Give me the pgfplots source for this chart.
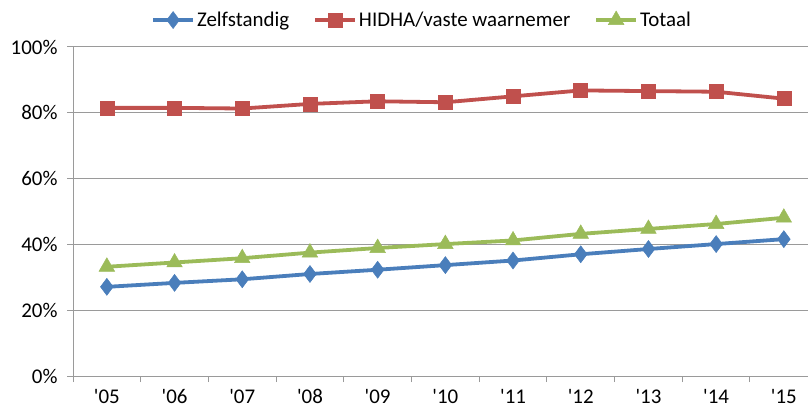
\documentclass[border=0pt]{standalone}
\usepackage{pgfplots}
\pgfplotsset{compat=1.18}
\usepackage{fontspec}
\setmainfont{Carlito}
\definecolor{cblue}{HTML}{4A7EBB}
\definecolor{cred}{HTML}{C0504D}
\definecolor{cgreen}{HTML}{9BBB59}
\definecolor{cgrid}{HTML}{9A9A9A}
\begin{document}
\begin{tikzpicture}
\begin{axis}[
  at={(0,0)}, anchor=south west,
  scale only axis, width=735bp, height=329bp,
  xmin=-0.5, xmax=10.357, ymin=0, ymax=100,
  axis x line=bottom, axis y line=left,
  axis line style={cgrid, line width=1pt, -},
  xtick={0,...,10},
  xticklabels={\textquotesingle05,\textquotesingle06,\textquotesingle07,\textquotesingle08,\textquotesingle09,\textquotesingle10,\textquotesingle11,\textquotesingle12,\textquotesingle13,\textquotesingle14,\textquotesingle15},
  minor xtick={-0.5,0.5,...,9.5},
  major x tick style={draw=none},
  minor tick length=6bp,
  minor x tick style={cgrid, line width=1pt},
  x tick label style={yshift=-4bp},
  ytick={0,20,...,100},
  yticklabels={0\%,20\%,40\%,60\%,80\%,100\%},
  y tick label style={xshift=-6bp},
  ymajorgrids,
  major grid style={cgrid, line width=1pt},
  tick align=outside,
  major tick length=6bp,
  ytick style={cgrid, line width=1pt},
  tick label style={font=\fontsize{21}{25}\selectfont},
  /pgf/number format/assume math mode=true,
  clip=false,
  legend style={at={(0.475,1.082)}, anchor=center, draw=none, fill=none,
    font=\fontsize{21}{25}\selectfont, legend columns=3,
    /tikz/every even column/.append style={column sep=22bp},
    inner sep=0pt},
  legend cell align=left,
  legend image code/.code={\draw[mark repeat=2,mark phase=2] plot coordinates {(0bp,0bp) (20bp,0bp) (40bp,0bp)};},
]
\addplot[cblue, line width=3.8bp, mark=diamond*, mark size=8.5bp, mark options={solid, fill=cblue, line width=0.5bp}] coordinates {
(0,27.1) (1,28.3) (2,29.4) (3,31.0) (4,32.3) (5,33.7) (6,35.1) (7,37.0) (8,38.6) (9,40.1) (10,41.6)};
\addlegendentry{Zelfstandig}
\addplot[cred, line width=3.8bp, mark=square*, mark size=7bp, mark options={solid, fill=cred, line width=0.5bp}] coordinates {
(0,81.5) (1,81.5) (2,81.3) (3,82.7) (4,83.5) (5,83.2) (6,85.0) (7,86.8) (8,86.6) (9,86.4) (10,84.3)};
\addlegendentry{HIDHA/vaste waarnemer}
\addplot[cgreen, line width=3.8bp, mark=triangle*, mark size=9bp, mark options={solid, fill=cgreen, line width=0.5bp}] coordinates {
(0,33.2) (1,34.5) (2,35.8) (3,37.5) (4,38.9) (5,40.1) (6,41.2) (7,43.2) (8,44.7) (9,46.2) (10,48.1)};
\addlegendentry{Totaal}
\end{axis}
\pgfresetboundingbox
\useasboundingbox (-73bp,-34bp) rectangle (735bp,376bp);
\end{tikzpicture}
\end{document}
